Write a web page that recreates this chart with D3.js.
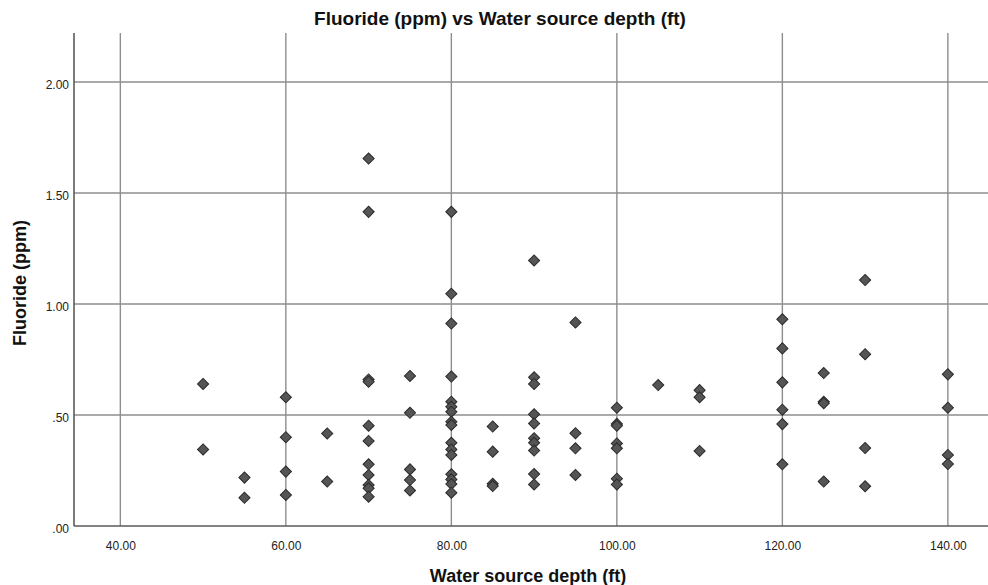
<!DOCTYPE html>
<html>
<head>
<meta charset="utf-8">
<script src="https://cdn.jsdelivr.net/npm/d3@7"></script>
<style>
  body { margin: 0; background: #fff; }
  svg { display: block; font-family: "Liberation Sans", Arial, sans-serif; }
</style>
</head>
<body>
<div id="chart"></div>
<script>
// depth (ft) and fluoride (ppm), paired by index
var depth = [50, 50,
	55, 55,
	60, 60, 60, 60,
	65, 65,
	70, 70, 70, 70, 70, 70, 70, 70, 70, 70, 70,
	75, 75, 75, 75, 75,
	80, 80, 80, 80, 80, 80, 80, 80, 80, 80, 80, 80, 80, 80, 80, 80,
	85, 85, 85, 85,
	90, 90, 90, 90, 90, 90, 90, 90, 90, 90,
	95, 95, 95, 95,
	100, 100, 100, 100, 100, 100, 100,
	105,
	110, 110, 110,
	120, 120, 120, 120, 120, 120,
	125, 125, 125, 125,
	130, 130, 130, 130,
	140, 140, 140, 140];
var fluoride = [0.64, 0.345,
	0.218, 0.127,
	0.58, 0.40, 0.245, 0.14,
	0.417, 0.20,
	1.655, 1.415, 0.66, 0.65, 0.452, 0.383, 0.278, 0.23, 0.185, 0.17, 0.132,
	0.676, 0.51, 0.255, 0.207, 0.16,
	1.415, 1.046, 0.912, 0.673, 0.56, 0.537, 0.515, 0.47, 0.455, 0.375, 0.345, 0.32, 0.233, 0.21, 0.189, 0.15,
	0.448, 0.335, 0.19, 0.18,
	1.196, 0.67, 0.64, 0.503, 0.462, 0.395, 0.375, 0.34, 0.234, 0.187,
	0.917, 0.418, 0.35, 0.23,
	0.533, 0.46, 0.452, 0.372, 0.35, 0.213, 0.187,
	0.635,
	0.612, 0.58, 0.338,
	0.931, 0.80, 0.647, 0.524, 0.459, 0.278,
	0.689, 0.56, 0.553, 0.20,
	1.108, 0.774, 0.351, 0.179,
	0.683, 0.533, 0.32, 0.279];

var xTicks = [40, 60, 80, 100, 120, 140];
var yTicks = [0, 0.5, 1, 1.5, 2];

const width = 988;
const height = 585;
const plot = { left: 74, right: 988, top: 33, bottom: 526 };
const grid_color = "#8e8e8e";
const axis_color = "#5a5a5a";
const text_color = "#222";

var svg = d3.select("#chart").append("svg")
	.attr("width", width)
	.attr("height", height);

var x = d3.scaleLinear().domain([34.4, 144.85]).range([plot.left, plot.right]);
var y = d3.scaleLinear().domain([0, 2.2207]).range([plot.bottom, plot.top]);

// grid lines
svg.append("g")
	.selectAll("line")
	.data(xTicks)
	.join("line")
	.attr("x1", d => x(d)).attr("x2", d => x(d))
	.attr("y1", plot.top).attr("y2", plot.bottom)
	.attr("stroke", grid_color)
	.attr("stroke-width", 1.4);

svg.append("g")
	.selectAll("line")
	.data(yTicks.slice(1))
	.join("line")
	.attr("x1", plot.left).attr("x2", plot.right)
	.attr("y1", d => y(d)).attr("y2", d => y(d))
	.attr("stroke", grid_color)
	.attr("stroke-width", 1.4);

// axes, labels only
var xAxis = svg.append("g")
	.attr("transform", `translate(0,${plot.bottom})`)
	.call(d3.axisBottom(x).tickValues(xTicks).tickSize(0).tickPadding(15).tickFormat(d3.format(".2f")));
var yAxis = svg.append("g")
	.attr("transform", `translate(${plot.left},0)`)
	.call(d3.axisLeft(y).tickValues(yTicks).tickSize(0).tickPadding(5)
		.tickFormat(d => d3.format(".2f")(d).replace(/^0/, "")));

[xAxis, yAxis].forEach(function (a) {
	a.select(".domain").remove();
	a.selectAll("text")
		.style("font-size", "12px")
		.style("font-family", "Liberation Sans, Arial, sans-serif")
		.attr("fill", text_color);
});
yAxis.selectAll("text").attr("dy", "0.55em");

svg.append("line")
	.attr("x1", plot.left).attr("x2", plot.right)
	.attr("y1", plot.bottom).attr("y2", plot.bottom)
	.attr("stroke", axis_color).attr("stroke-width", 1.6);
svg.append("line")
	.attr("x1", plot.left).attr("x2", plot.left)
	.attr("y1", plot.top).attr("y2", plot.bottom)
	.attr("stroke", axis_color).attr("stroke-width", 1.6);

// points
var diamond = d3.symbol().type(d3.symbolSquare).size(62);
svg.append("g")
	.selectAll("path")
	.data(d3.range(depth.length))
	.join("path")
	.attr("d", diamond)
	.attr("transform", i => `translate(${x(depth[i])},${y(fluoride[i])}) rotate(45)`)
	.attr("fill", "#555")
	.attr("stroke", "#2a2a2a")
	.attr("stroke-width", 1);

// titles
svg.append("text")
	.attr("x", 500).attr("y", 25)
	.attr("text-anchor", "middle")
	.style("font-size", "19px").style("font-weight", "bold")
	.attr("fill", "#111")
	.text("Fluoride (ppm) vs Water source depth (ft)");

svg.append("text")
	.attr("x", 528).attr("y", 582)
	.attr("text-anchor", "middle")
	.style("font-size", "18px").style("font-weight", "bold")
	.attr("fill", "#111")
	.text("Water source depth (ft)");

svg.append("text")
	.attr("transform", "translate(26,283) rotate(-90)")
	.attr("text-anchor", "middle")
	.style("font-size", "18px").style("font-weight", "bold")
	.attr("fill", "#111")
	.text("Fluoride (ppm)");
</script>
</body>
</html>
